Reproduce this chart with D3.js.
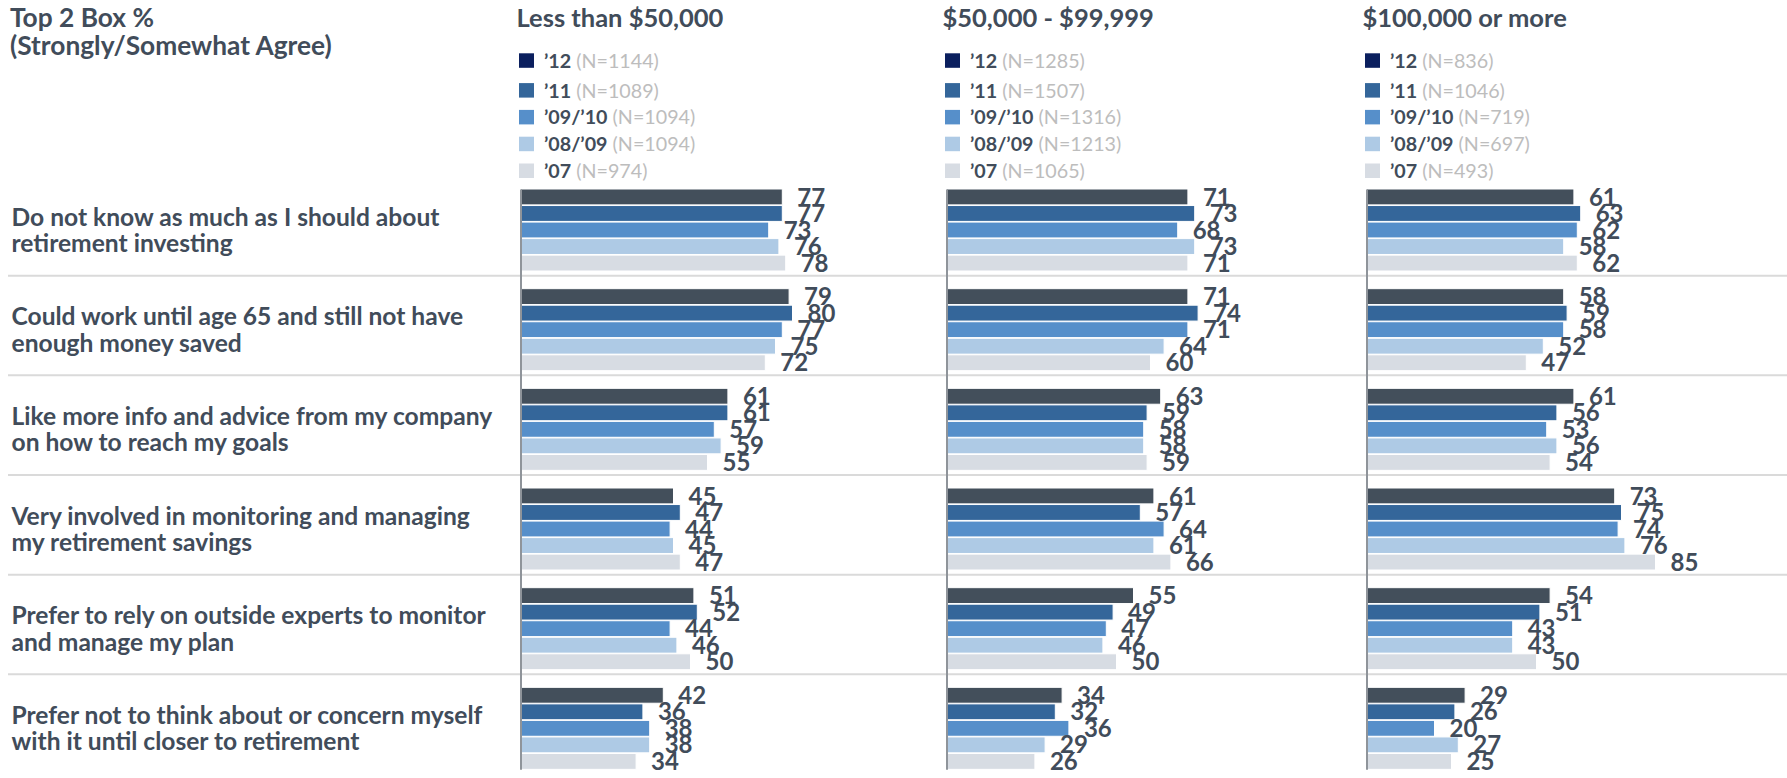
<!DOCTYPE html>
<html>
<head>
<meta charset="utf-8">
<script src="https://cdn.jsdelivr.net/npm/d3@7"></script>
<style>
  body { margin: 0; background: #fff; }
  svg { display: block; }
  text { font-family: Lato, "Open Sans", sans-serif; }
</style>
</head>
<body>
<div id="chart"></div>
<script>
// Income segments, survey waves and sample sizes
const segments = ["Less than $50,000", "$50,000 - $99,999", "$100,000 or more"];
const years = ["’12", "’11", "’09/’10", "’08/’09", "’07"];
const sampleSizes = [
  [1144, 1089, 1094, 1094, 974],
  [1285, 1507, 1316, 1213, 1065],
  [836, 1046, 719, 697, 493]
];

// Statements, split into their two display lines
const statements = [
  ["Do not know as much as I should about", "retirement investing"],
  ["Could work until age 65 and still not have", "enough money saved"],
  ["Like more info and advice from my company", "on how to reach my goals"],
  ["Very involved in monitoring and managing", "my retirement savings"],
  ["Prefer to rely on outside experts to monitor", "and manage my plan"],
  ["Prefer not to think about or concern myself", "with it until closer to retirement"]
];

// Top 2 Box % per statement, ordered ’12, ’11, ’09/’10, ’08/’09, ’07
const valuesUnder50k = [
  [77, 77, 73, 76, 78],
  [79, 80, 77, 75, 72],
  [61, 61, 57, 59, 55],
  [45, 47, 44, 45, 47],
  [51, 52, 44, 46, 50],
  [42, 36, 38, 38, 34]
];
const values50kTo100k = [
  [71, 73, 68, 73, 71],
  [71, 74, 71, 64, 60],
  [63, 59, 58, 58, 59],
  [61, 57, 64, 61, 66],
  [55, 49, 47, 46, 50],
  [34, 32, 36, 29, 26]
];
const values100kPlus = [
  [61, 63, 62, 58, 62],
  [58, 59, 58, 52, 47],
  [61, 56, 53, 56, 54],
  [73, 75, 74, 76, 85],
  [54, 51, 43, 43, 50],
  [29, 26, 20, 27, 25]
];
const segmentValues = [valuesUnder50k, values50kTo100k, values100kPlus];

// Styling
const barColors = ["#434f5b", "#34669a", "#568fca", "#aecae5", "#d7dce3"];
const legendColors = ["#0b1f5e", "#34669a", "#568fca", "#aecae5", "#d7dce3"];
const inkColor = "#414c5a";
const mutedColor = "#bdbdbd";

const W = 1787, H = 778;
const svg = d3.select("#chart").append("svg")
  .attr("width", W).attr("height", H)
  .attr("viewBox", `0 0 ${W} ${H}`);

// Layout scales
const panelX = d3.scaleOrdinal().domain(segments).range([520.5, 946.5, 1366.5]);
const rowBand = d3.scaleBand().domain(d3.range(statements.length)).range([176, 774]);
const groupOffset = 13, groupHeight = 82;
const yearBand = d3.scaleBand().domain(years).range([0, groupHeight]).paddingInner(0.04);
const x = d3.scaleLinear().domain([0, 100]).range([0, 340]);

// Header
const header = svg.append("text")
  .attr("x", 10).attr("y", 27)
  .attr("fill", inkColor).attr("font-weight", 700).attr("font-size", 26.3);
header.append("tspan").attr("x", 10).text("Top 2 Box %");
header.append("tspan").attr("x", 10).attr("dy", 27.5).text("(Strongly/Somewhat Agree)");

// Row separators
svg.append("g").selectAll("line")
  .data(d3.range(1, statements.length))
  .join("line")
  .attr("x1", 8).attr("x2", W)
  .attr("y1", d => rowBand(d)).attr("y2", d => rowBand(d))
  .attr("stroke", "#dadada").attr("stroke-width", 2);

// Statement labels
const stmt = svg.append("g").selectAll("text")
  .data(statements)
  .join("text")
  .attr("fill", inkColor).attr("font-weight", 700).attr("font-size", 24.6)
  .attr("y", (d, i) => rowBand(i) + groupOffset + groupHeight / 2 - 4.2);
stmt.append("tspan").attr("x", 11.5).text(d => d[0]);
stmt.append("tspan").attr("x", 11.5).attr("dy", 26.2).text(d => d[1]);

// Panels
segments.forEach((seg, s) => {
  const x0 = panelX(seg);
  const g = svg.append("g");

  // Panel title
  g.append("text")
    .attr("x", x0 - 4).attr("y", 27)
    .attr("fill", inkColor).attr("font-weight", 700).attr("font-size", 25.5)
    .text(seg);

  // Legend
  const legendY = i => (i === 0 ? 60.5 : 63.5 + 26.8 * i);
  const leg = g.append("g").selectAll("g")
    .data(years)
    .join("g")
    .attr("transform", (d, i) => `translate(${x0 - 1.5},${legendY(i)})`);
  leg.append("rect")
    .attr("x", 0).attr("y", -7.2)
    .attr("width", 15).attr("height", 14.5)
    .attr("fill", (d, i) => legendColors[i]);
  const lt = leg.append("text")
    .attr("x", 25).attr("y", 7.3)
    .attr("font-size", 19.7);
  lt.append("tspan")
    .attr("fill", inkColor).attr("font-weight", 700)
    .text(d => d);
  lt.append("tspan")
    .attr("fill", mutedColor).attr("font-weight", 400)
    .text((d, i) => ` (N=${sampleSizes[s][i]})`);

  // Bars
  const rows = g.append("g").selectAll("g")
    .data(segmentValues[s])
    .join("g")
    .attr("transform", (d, i) => `translate(${x0},${rowBand(i) + groupOffset})`);

  rows.selectAll("rect")
    .data(d => d.map((v, k) => ({ v, year: years[k], k })))
    .join("rect")
    .attr("x", 0)
    .attr("y", d => yearBand(d.year))
    .attr("width", d => x(d.v))
    .attr("height", yearBand.bandwidth())
    .attr("fill", d => barColors[d.k])
    .attr("stroke", "#ffffff").attr("stroke-width", 1);

  // Value axis line down the left edge of the panel
  const yAxisScale = d3.scaleLinear()
    .domain([0, 1])
    .range([rowBand(0) + groupOffset, rowBand(statements.length - 1) + groupOffset + groupHeight]);
  const ax = g.append("g")
    .attr("transform", `translate(${x0},0)`)
    .call(d3.axisLeft(yAxisScale).tickValues([]).tickSizeOuter(0));
  ax.select(".domain").attr("stroke", "#8f949a").attr("stroke-width", 2);

  // Value labels
  rows.selectAll("text")
    .data(d => d.map((v, k) => ({ v, year: years[k], k })))
    .join("text")
    .attr("x", d => x(d.v) + 15)
    .attr("y", d => yearBand(d.year) + yearBand.bandwidth() / 2 + 8.6)
    .attr("fill", inkColor).attr("font-weight", 700).attr("font-size", 24)
    .text(d => d.v);
});
</script>
</body>
</html>
